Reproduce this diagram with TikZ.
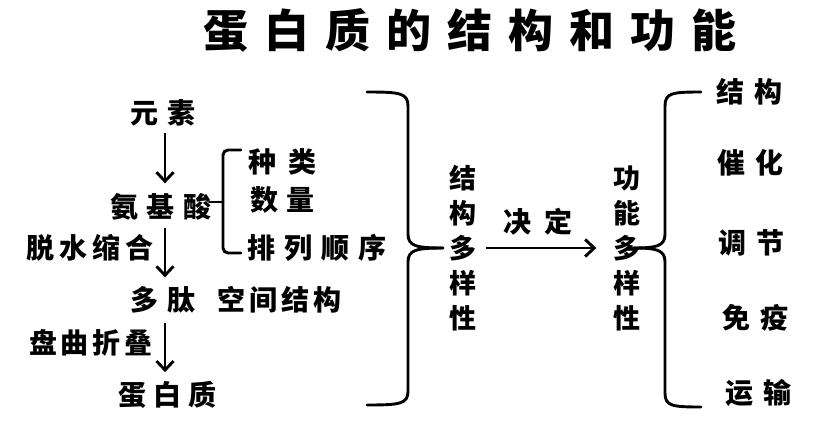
\documentclass[tikz,border=0pt]{standalone}
\usepackage{fontspec}
\newfontfamily\cjk{Noto Sans CJK SC}
\usetikzlibrary{arrows.meta}
\newcommand\gp[1]{\hspace{#1pt}}
\begin{document}
\begin{tikzpicture}[x=1pt,y=-1pt,
  txt/.style={inner sep=0pt, font=\cjk\bfseries\fontsize{28}{28}\selectfont},
  col/.style={inner sep=0pt, align=center, font=\cjk\bfseries\fontsize{27}{35}\selectfont},
  ttl/.style={inner sep=0pt, font=\cjk\bfseries\fontsize{45}{45}\selectfont},
  ln/.style={line width=2.9pt, black},
  br/.style={ln, line cap=round},
  arr/.style={ln, -{Straight Barb[length=9pt,width=17pt,line width=2.9pt]}}]
\useasboundingbox (0,0) rectangle (827,423);
\fill[white] (0,0) rectangle (827,423);
% title
\node[ttl] (title) at (470,30) {蛋\gp{16}白\gp{16}质\gp{16}的\gp{16}结\gp{16}构\gp{16}和\gp{16}功\gp{16}能};
% left column
\node[txt] (ys) at (163,113) {元\gp{10}素};
\node[txt] (ajs) at (161,207) {氨\gp{9}基\gp{9}酸};
\node[txt, anchor=west] (dt) at (130,300) {多\gp{9}肽};
\node[txt, anchor=west] (kjjg) at (217,300) {空\gp{4}间\gp{4}结\gp{4}构};
\node[txt] (dbz) at (167,395) {蛋\gp{7}白\gp{7}质};
\node[txt] (tsss) at (90,248) {脱\gp{5}水\gp{5}缩\gp{5}合};
\node[txt] (pqzd) at (91,343) {盘\gp{4}曲\gp{4}折\gp{4}叠};
\node[txt, anchor=west] (zl) at (248,162) {种\gp{12}类};
\node[txt, anchor=west] (sl) at (250,200) {数\gp{8}量};
\node[txt, anchor=west] (plsx) at (247,248) {排\gp{9}列\gp{9}顺\gp{9}序};
\coordinate (ax) at (165,0);
\draw[arr, shorten <=6pt, shorten >=10pt] (ax |- ys.south) -- (ax |- ajs.north);
\draw[arr, shorten <=7pt, shorten >=9pt] (ax |- ajs.south) -- (ax |- dt.north);
\draw[arr, shorten <=9pt, shorten >=9pt] (ax |- dt.south) -- (ax |- dbz.north);
% small bracket
\coordinate (sbt) at (241,150);
\coordinate (sbb) at (241,253);
\coordinate (sbm) at (223,202);
\draw[br, rounded corners=5pt] (sbt) -- (sbm |- sbt) -- (sbm |- sbb) -- (sbb);
\draw[br] (ajs.east |- sbm) ++(-3,0) -- (sbm);
% big brace left
\node[col] (jgdyx) at (463,248) {结\\构\\多\\样\\性};
\coordinate (b1t) at (367,92);
\coordinate (b1b) at (367,405);
\coordinate (b1m) at (443,248);
\draw[br] (b1t) .. controls (400,92) and (408,93) .. (408,106) -- (408,234)
  .. controls (408,246) and (416,248) .. (b1m);
\draw[br] (b1m) .. controls (416,248) and (408,250) .. (408,262) -- (408,391)
  .. controls (408,404) and (400,405) .. (b1b);
% decide arrow
\node[col] (gndyx) at (627,248) {功\\能\\多\\样\\性};
\draw[arr, shorten <=9pt, shorten >=17pt] (jgdyx.east) -- (gndyx.west);
\node[txt] (jd) at (538,222) {决\gp{13}定};
% big brace right
\coordinate (b2t) at (701,92);
\coordinate (b2b) at (701,407);
\coordinate (b2m) at (633,248);
\draw[br] (b2t) .. controls (672,92) and (665,93) .. (665,106) -- (665,234)
  .. controls (665,246) and (657,248) .. (b2m);
\draw[br] (b2m) .. controls (657,248) and (665,250) .. (665,262) -- (665,393)
  .. controls (665,406) and (672,407) .. (b2b);
% functions
\node[txt] (f1) at (749,92) {结\gp{10}构};
\node[txt] (f2) at (750,163) {催\gp{10}化};
\node[txt] (f3) at (751,243) {调\gp{10}节};
\node[txt] (f4) at (755,318) {免\gp{10}疫};
\node[txt] (f5) at (758,393) {运\gp{10}输};
\end{tikzpicture}
\end{document}
